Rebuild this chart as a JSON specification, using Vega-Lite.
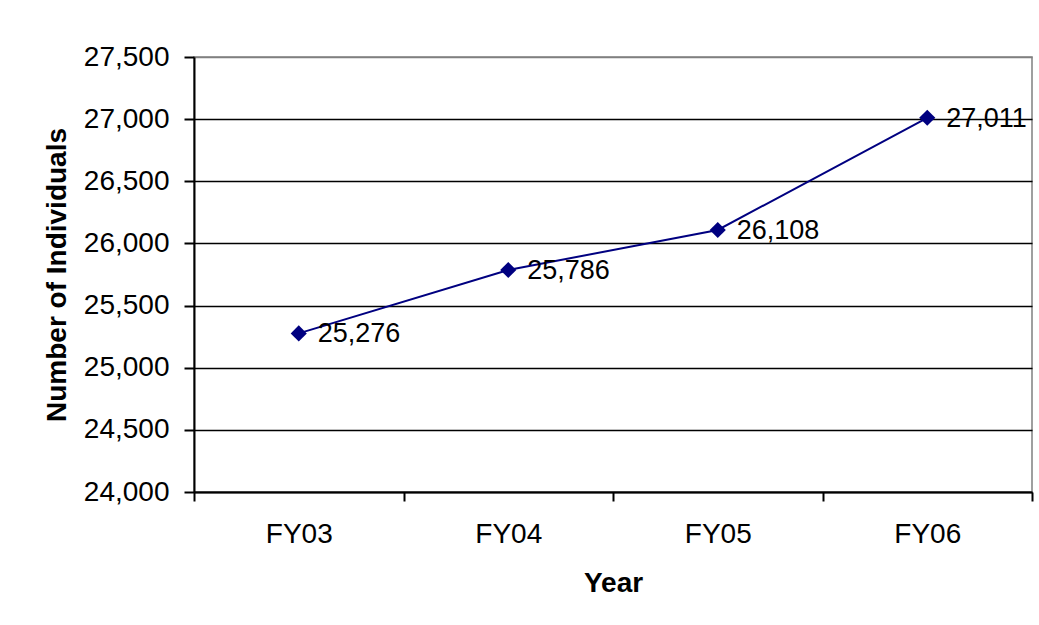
{
  "$schema": "https://vega.github.io/schema/vega-lite/v6.json",
  "autosize": "none",
  "width": 838,
  "height": 435,
  "padding": {"left": 194, "top": 57, "right": 7, "bottom": 133},
  "background": "white",
  "config": {
    "font": "Liberation Sans",
    "view": {"stroke": "#808080", "strokeWidth": 1.5}
  },
  "data": {
    "values": [
      {"Year": "FY03", "Individuals": 25276},
      {"Year": "FY04", "Individuals": 25786},
      {"Year": "FY05", "Individuals": 26108},
      {"Year": "FY06", "Individuals": 27011}
    ]
  },
  "encoding": {
    "x": {
      "field": "Year",
      "type": "ordinal",
      "scale": {"paddingInner": 0, "paddingOuter": 0},
      "axis": {
        "title": "Year",
        "labelAngle": 0,
        "tickBand": "extent",
        "grid": false,
        "domainColor": "black",
        "domainWidth": 2,
        "tickColor": "black",
        "tickWidth": 2,
        "tickSize": 9,
        "labelFontSize": 28,
        "labelColor": "black",
        "labelPadding": 19,
        "titleFontSize": 28,
        "titleFontWeight": "bold",
        "titleColor": "black",
        "titlePadding": 21
      }
    },
    "y": {
      "field": "Individuals",
      "type": "quantitative",
      "scale": {"domain": [24000, 27500], "nice": false, "zero": false},
      "axis": {
        "title": "Number of Individuals",
        "values": [24000, 24500, 25000, 25500, 26000, 26500, 27000, 27500],
        "format": ",.0f",
        "grid": true,
        "gridColor": {"condition": {"test": "datum.value == 27500", "value": "#808080"}, "value": "black"},
        "gridWidth": 1.5,
        "domainColor": "black",
        "domainWidth": 2,
        "tickColor": "black",
        "tickWidth": 2,
        "tickSize": 10,
        "labelFontSize": 28,
        "labelColor": "black",
        "labelPadding": 15,
        "titleFontSize": 28,
        "titleFontWeight": "bold",
        "titleColor": "black",
        "titlePadding": 12
      }
    }
  },
  "layer": [
    {"mark": {"type": "line", "color": "#000080", "strokeWidth": 2}},
    {"mark": {"type": "point", "shape": "diamond", "filled": true, "color": "#000080", "size": 260, "opacity": 1}},
    {
      "mark": {"type": "text", "align": "left", "baseline": "middle", "dx": 19, "dy": 1, "fontSize": 27, "color": "black"},
      "encoding": {"text": {"field": "Individuals", "type": "quantitative", "format": ",.0f"}}
    }
  ]
}
